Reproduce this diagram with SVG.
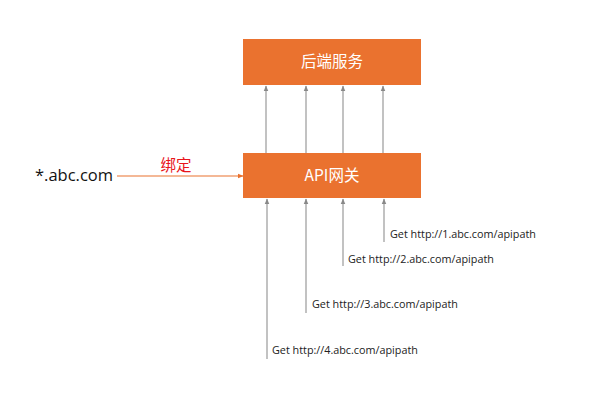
<svg xmlns="http://www.w3.org/2000/svg" width="600" height="400" viewBox="0 0 600 400">
<defs>
<style>
.box{fill:#EA722F;}
.bt{fill:#fff;font-family:"Noto Sans CJK SC","Liberation Sans",sans-serif;font-size:15.5px;text-anchor:middle;}
.g{stroke:#999;stroke-width:1.2;fill:none;marker-end:url(#ag);}
.lbl{fill:#222;font-family:"Open Sans","Liberation Sans",sans-serif;font-size:10.8px;}
</style>
<marker id="ag" viewBox="0 0 10 10" refX="9" refY="5" markerWidth="5" markerHeight="5" orient="auto"><path d="M0,1 L10,5 L0,9 z" fill="#888"/></marker>
<marker id="ao" viewBox="0 0 10 10" refX="9" refY="5" markerWidth="5" markerHeight="5" orient="auto"><path d="M0,1 L10,5 L0,9 z" fill="#EA722F"/></marker>
</defs>
<rect width="600" height="400" fill="#fff"/>
<g id="backend"><rect class="box" x="243" y="39" width="178" height="46"/><text class="bt" x="332" y="67">后端服务</text></g>
<g id="gateway"><rect class="box" x="243" y="153" width="178" height="45"/><text class="bt" x="332" y="181">API网关</text></g>
<g id="domain"><text x="35" y="181" font-family="Open Sans, Liberation Sans, sans-serif" font-size="16.5" fill="#111">*.abc.com</text></g>
<g id="bind"><text x="176" y="171" font-family="Noto Sans CJK SC, sans-serif" font-size="15.5" fill="#e8141b" text-anchor="middle">绑定</text></g>
<g id="labels">
<text class="lbl" x="390" y="238">Get http://1.abc.com/apipath</text>
<text class="lbl" x="348" y="263">Get http://2.abc.com/apipath</text>
<text class="lbl" x="312" y="308">Get http://3.abc.com/apipath</text>
<text class="lbl" x="272" y="354">Get http://4.abc.com/apipath</text>
</g>
<g id="connectors">
<line x1="117" y1="176" x2="243" y2="176" stroke="#EA722F" stroke-width="1.2" marker-end="url(#ao)"/>
<line class="g" x1="266" y1="153" x2="266" y2="86"/>
<line class="g" x1="306" y1="153" x2="306" y2="86"/>
<line class="g" x1="343" y1="153" x2="343" y2="86"/>
<line class="g" x1="383" y1="153" x2="383" y2="86"/>
<line class="g" x1="267" y1="359" x2="267" y2="199"/>
<line class="g" x1="306" y1="313" x2="306" y2="199"/>
<line class="g" x1="343" y1="266" x2="343" y2="199"/>
<line class="g" x1="384" y1="242" x2="384" y2="199"/>
</g>
</svg>
